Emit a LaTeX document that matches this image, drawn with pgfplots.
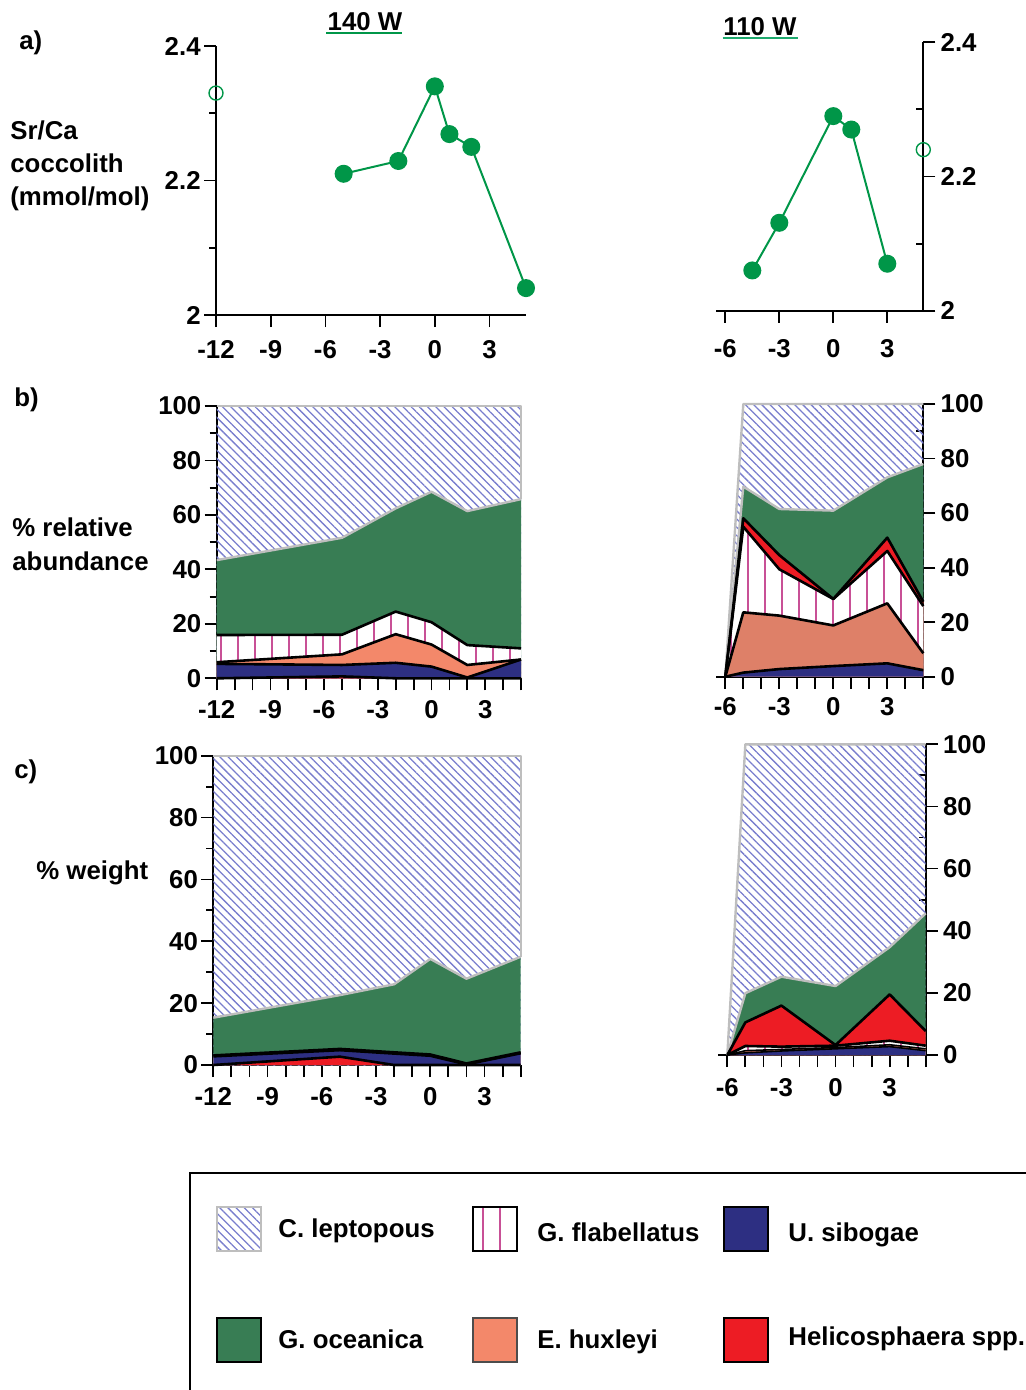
\documentclass[border=0pt]{standalone}
\usepackage{fontspec}
\setmainfont{Liberation Sans}
\usepackage{pgfplots}
\pgfplotsset{compat=1.18}
\usetikzlibrary{patterns.meta}

\definecolor{lepc}{RGB}{120,125,205}
\definecolor{ocean}{RGB}{56,125,84}
\definecolor{hux}{RGB}{243,136,106}
\definecolor{huxb}{RGB}{222,128,104}
\definecolor{sib}{RGB}{45,47,130}
\definecolor{heli}{RGB}{237,28,36}
\definecolor{flab}{RGB}{200,80,150}
\definecolor{srg}{RGB}{0,150,72}
\definecolor{srg2}{RGB}{30,170,110}
\definecolor{lepline}{RGB}{190,190,190}

\newcommand\lbl{\fontsize{12.9}{15.5}\selectfont\bfseries}

\pgfplotsset{
 base/.style={scale only axis, clip=false, axis line style={line width=1pt},
   tick style={black, line width=0.9pt}, tick align=outside,
   major tick length=6pt, minor tick length=3.5pt,
   ticklabel style={font=\lbl}, axis x line*=bottom},
 lft/.style={base, axis y line*=left, xmin=-12, xmax=5, anchor=south west,
   yticklabel style={inner sep=1.5pt}},
 rgt/.style={base, axis y line*=right, xmin=-6.5, xmax=5, anchor=south west,
   yticklabel style={inner sep=2.5pt}},
 lep/.style={draw=none, pattern={Lines[angle=-45,distance=2.9pt,line width=0.65pt]}, pattern color=lepc},
 lepl/.style={draw=lepline, line width=1.2pt, line join=round},
 oce/.style={draw=none, fill=ocean},
 flb/.style={draw=none, fill=white, postaction={pattern={Lines[angle=90,distance=8.5pt,line width=0.9pt]}, pattern color=flab}},
 hx/.style={draw=none, fill=hux},
 hxb/.style={draw=none, fill=huxb},
 sb/.style={draw=none, fill=sib},
 hl/.style={draw=none, fill=heli},
 bnd/.style={draw=black, line width=1.3pt, line join=round},
 srline/.style={srg, line width=1pt, mark=*, mark size=4pt, mark options={solid, fill=srg, draw=srg}},
 sropen/.style={srg, only marks, mark=o, mark size=3.5pt, mark options={line width=0.7pt}},
}

\begin{document}
\begin{tikzpicture}
\path[use as bounding box] (0,0) rectangle (513pt,-695pt);

% ---------------- a) left : 140 W ----------------
\begin{axis}[lft, at={(108pt,-157.5pt)}, width=155pt, height=134.5pt,
  ymin=2, ymax=2.4, xtick={-12,-9,-6,-3,0,3}, xticklabels={-12,-9,-6,-3,0,3},
  xticklabel style={yshift=-3pt},
  ytick={2,2.2,2.4}, yticklabels={2,2.2,2.4}, minor ytick={2.1,2.3}]
\addplot[srline] coordinates {(-5,2.21) (-2,2.229) (0,2.34) (0.8,2.269) (2,2.25) (5,2.04)};
\addplot[sropen] coordinates {(-12,2.33)};
\end{axis}

% ---------------- a) right : 110 W ----------------
\begin{axis}[rgt, at={(358.15pt,-155.35pt)}, width=103.5pt, height=134.2pt,
  ymin=2, ymax=2.4, xtick={-6,-3,0,3}, xticklabels={-6,-3,0,3},
  xticklabel style={yshift=-5pt},
  ytick={2,2.2,2.4}, yticklabels={2,2.2,2.4},
  extra y ticks={2.1,2.3}, extra y tick labels={}, extra y tick style={tick align=inside, major tick length=3.5pt}]
\addplot[srline] coordinates {(-4.5,2.06) (-3,2.131) (0,2.29) (1,2.27) (3,2.07)};
\addplot[sropen] coordinates {(5,2.24)};
\end{axis}

% ---------------- b) left ----------------
\begin{axis}[lft, at={(108.35pt,-339.15pt)}, width=152.15pt, height=136.15pt,
  ymin=0, ymax=100, xtick={-12,...,5}, xticklabels={-12,,,-9,,,-6,,,-3,,,0,,,3,,},
  xticklabel style={yshift=-1.5pt},
  ytick={0,20,...,100}, yticklabels={0,20,40,60,80,100}, minor ytick={10,30,...,90}]
\addplot[lep] coordinates {(-12,100) (5,100)} \closedcycle;
\addplot[lepl] coordinates {(-12,100) (5,100) (5,65.8)};
\addplot[oce] coordinates {(-12,43.4) (-5,51.6) (-2,62.4) (0,68.5) (2,61.4) (5,65.8)} \closedcycle;
\addplot[flb] coordinates {(-12,15.9) (-5,16.0) (-2,24.5) (0,20.6) (2,12.2) (5,11.0)} \closedcycle;
\addplot[hx] coordinates {(-12,5.9) (-5,8.8) (-2,16.2) (0,12.4) (2,4.9) (5,6.9)} \closedcycle;
\addplot[sb] coordinates {(-12,5.3) (-5,4.9) (-2,5.7) (0,4.3) (2,0.3) (5,6.9)} \closedcycle;
\addplot[hl] coordinates {(-12,0) (-5,0.7) (-2,0) (0,0) (2,0) (5,0)} \closedcycle;
\addplot[lepl] coordinates {(-12,43.4) (-5,51.6) (-2,62.4) (0,68.5) (2,61.4) (5,65.8)};
\addplot[bnd] coordinates {(-12,15.9) (-5,16.0) (-2,24.5) (0,20.6) (2,12.2) (5,11.0)};
\addplot[bnd] coordinates {(-12,5.9) (-5,8.8) (-2,16.2) (0,12.4) (2,4.9) (5,6.9)};
\addplot[bnd] coordinates {(-12,5.3) (-5,4.9) (-2,5.7) (0,4.3) (2,0.3) (5,6.9)};
\addplot[bnd] coordinates {(-12,0) (-5,0.7) (-2,0) (0,0) (2,0) (5,0)};
\end{axis}

% ---------------- b) right ----------------
\begin{axis}[rgt, at={(358.15pt,-338.35pt)}, width=103.5pt, height=136.35pt,
  ymin=0, ymax=100, xtick={-6,...,5}, xticklabels={-6,,,-3,,,0,,,3,,},
  xticklabel style={yshift=-1pt},
  ytick={0,20,...,100}, yticklabels={0,20,40,60,80,100},
  extra y ticks={10,30,50,70,90}, extra y tick labels={}, extra y tick style={tick align=inside, major tick length=3.5pt}]
\addplot[lep] coordinates {(-6,0) (-5,100) (5,100)} \closedcycle;
\addplot[lepl] coordinates {(-6,0) (-5,100) (5,100)};
\addplot[oce] coordinates {(-6,0) (-5,69.7) (-3,61.5) (0,60.9) (3,73.1) (5,78.0)} \closedcycle;
\addplot[hl] coordinates {(-6,0) (-5,58.1) (-3,44.6) (0,28.5) (3,51.0) (5,27.5)} \closedcycle;
\addplot[flb] coordinates {(-6,0) (-5,55.0) (-3,39.4) (0,28.5) (3,46.1) (5,25.9)} \closedcycle;
\addplot[hxb] coordinates {(-6,0) (-5,23.6) (-3,22.4) (0,18.8) (3,26.9) (5,8.6)} \closedcycle;
\addplot[sb] coordinates {(-6,0) (-5,1.5) (-3,2.8) (0,3.9) (3,4.9) (5,2.4)} \closedcycle;
\addplot[lepl] coordinates {(-6,0) (-5,69.7) (-3,61.5) (0,60.9) (3,73.1) (5,78.0)};
\addplot[bnd] coordinates {(-6,0) (-5,58.1) (-3,44.6) (0,28.5) (3,51.0) (5,27.5)};
\addplot[bnd] coordinates {(-6,0) (-5,55.0) (-3,39.4) (0,28.5) (3,46.1) (5,25.9)};
\addplot[bnd] coordinates {(-6,0) (-5,23.6) (-3,22.4) (0,18.8) (3,26.9) (5,8.6)};
\addplot[bnd] coordinates {(-6,0) (-5,1.5) (-3,2.8) (0,3.9) (3,4.9) (5,2.4)};
\end{axis}

% ---------------- c) left ----------------
\begin{axis}[lft, at={(106.65pt,-532.5pt)}, width=153.7pt, height=154.65pt,
  ymin=0, ymax=100, xtick={-12,...,5}, xticklabels={-12,,,-9,,,-6,,,-3,,,0,,,3,,},
  xticklabel style={yshift=-1.5pt},
  ytick={0,20,...,100}, yticklabels={0,20,40,60,80,100}, minor ytick={10,30,...,90}]
\addplot[lep] coordinates {(-12,100) (5,100)} \closedcycle;
\addplot[lepl] coordinates {(-12,100) (5,100) (5,35.0)};
\addplot[oce] coordinates {(-12,15.3) (-5,22.6) (-2,26.1) (0,34.3) (2,27.9) (5,35.0)} \closedcycle;
\addplot[flb] coordinates {(-12,3.1) (-5,5.2) (-2,4.1) (0,3.4) (2,0.5) (5,4.1)} \closedcycle;
\addplot[hx] coordinates {(-12,2.9) (-5,4.9) (-2,3.8) (0,3.1) (2,0.3) (5,3.9)} \closedcycle;
\addplot[sb] coordinates {(-12,2.8) (-5,4.8) (-2,3.7) (0,3.0) (2,0.2) (5,3.8)} \closedcycle;
\addplot[hl] coordinates {(-12,0) (-5,2.7) (-2,0) (0,0) (2,0) (5,0)} \closedcycle;
\addplot[lepl] coordinates {(-12,15.3) (-5,22.6) (-2,26.1) (0,34.3) (2,27.9) (5,35.0)};
\addplot[bnd] coordinates {(-12,3.1) (-5,5.2) (-2,4.1) (0,3.4) (2,0.5) (5,4.1)};
\addplot[bnd] coordinates {(-12,2.8) (-5,4.8) (-2,3.7) (0,3.0) (2,0.2) (5,3.8)};
\addplot[bnd] coordinates {(-12,0) (-5,2.7) (-2,0) (0,0) (2,0) (5,0)};
\end{axis}

% ---------------- c) right ----------------
\begin{axis}[rgt, at={(359.15pt,-527.5pt)}, width=103.7pt, height=155.35pt,
  ymin=0, ymax=100, xtick={-6,...,5}, xticklabels={-6,,,-3,,,0,,,3,,},
  xticklabel style={yshift=-2pt},
  ytick={0,20,...,100}, yticklabels={0,20,40,60,80,100},
  extra y ticks={10,30,50,70,90}, extra y tick labels={}, extra y tick style={tick align=inside, major tick length=3.5pt}]
\addplot[lep] coordinates {(-6,0) (-5,100) (5,100)} \closedcycle;
\addplot[lepl] coordinates {(-6,0) (-5,100) (5,100)};
\addplot[oce] coordinates {(-6,0) (-5,19.9) (-3,25.2) (0,22.2) (3,34.7) (5,45.6)} \closedcycle;
\addplot[hl] coordinates {(-6,0) (-5,10.5) (-3,15.9) (0,3.2) (3,19.5) (5,7.7)} \closedcycle;
\addplot[flb] coordinates {(-6,0) (-5,2.9) (-3,2.7) (0,3.0) (3,4.6) (5,3.0)} \closedcycle;
\addplot[hxb] coordinates {(-6,0) (-5,1.4) (-3,1.8) (0,2.4) (3,3.3) (5,2.0)} \closedcycle;
\addplot[sb] coordinates {(-6,0) (-5,0.7) (-3,1.3) (0,2.0) (3,2.7) (5,1.4)} \closedcycle;
\addplot[lepl] coordinates {(-6,0) (-5,19.9) (-3,25.2) (0,22.2) (3,34.7) (5,45.6)};
\addplot[bnd] coordinates {(-6,0) (-5,10.5) (-3,15.9) (0,3.2) (3,19.5) (5,7.7)};
\addplot[bnd] coordinates {(-6,0) (-5,2.9) (-3,2.7) (0,3.0) (3,4.6) (5,3.0)};
\addplot[bnd, line width=0.8pt] coordinates {(-6,0) (-5,1.4) (-3,1.8) (0,2.4) (3,3.3) (5,2.0)};
\addplot[bnd, line width=0.8pt] coordinates {(-6,0) (-5,0.7) (-3,1.3) (0,2.0) (3,2.7) (5,1.4)};
\end{axis}

% ---------------- texts ----------------
\begin{scope}[every node/.style={font=\lbl, inner sep=0pt}]
\node[anchor=base west] at (9.5pt,-25pt) {a)};
\node[anchor=base west] at (7pt,-203pt) {b)};
\node[anchor=base west] at (7pt,-389pt) {c)};
\node[anchor=base west] at (5pt,-70pt) {Sr/Ca};
\node[anchor=base west] at (5pt,-86.5pt) {coccolith};
\node[anchor=base west] at (5pt,-102.75pt) {(mmol/mol)};
\node[anchor=base west] at (6pt,-268pt) {\% relative};
\node[anchor=base west] at (6pt,-285pt) {abundance};
\node[anchor=base west] at (18pt,-439.5pt) {\% weight};
\node[anchor=base] at (182.5pt,-15.5pt) {140 W};
\node[anchor=base] at (380pt,-18pt) {110 W};
\end{scope}
\draw[srg, line width=1pt] (163pt,-16.6pt) -- (200.85pt,-16.6pt);
\draw[srg2, line width=1pt] (361.35pt,-18.85pt) -- (399.15pt,-18.85pt);

% ---------------- legend ----------------
\draw[line width=1pt] (520pt,-586.5pt) -- (95pt,-586.5pt) -- (95pt,-700pt);
\fill[pattern={Lines[angle=-45,distance=2.9pt,line width=0.65pt]}, pattern color=lepc] (108.5pt,-603.5pt) rectangle (130.5pt,-625.5pt);
\draw[lepline, line width=1pt] (108.5pt,-603.5pt) rectangle (130.5pt,-625.5pt);
\draw[line width=0.8pt, fill=white] (236.5pt,-603.5pt) rectangle (258.5pt,-625.5pt);
\draw[flab, line width=0.7pt] (241.5pt,-604pt) -- (241.5pt,-625pt);
\draw[flab, line width=0.7pt] (250pt,-604pt) -- (250pt,-625pt);
\draw[line width=0.8pt, fill=sib] (362pt,-603.5pt) rectangle (384pt,-625.5pt);
\draw[line width=0.8pt, fill=ocean] (108.5pt,-659pt) rectangle (130.5pt,-681pt);
\draw[line width=0.8pt, draw=black!70, fill=hux] (236.5pt,-659pt) rectangle (258.5pt,-681pt);
\draw[line width=0.8pt, fill=heli] (362pt,-659pt) rectangle (384pt,-681pt);
\begin{scope}[every node/.style={font=\lbl, inner sep=0pt, anchor=base west}]
\node at (139pt,-618.5pt) {C. leptopous};
\node at (268.5pt,-620.5pt) {G. flabellatus};
\node at (394pt,-620.5pt) {U. sibogae};
\node at (139pt,-674pt) {G. oceanica};
\node at (268.5pt,-674pt) {E. huxleyi};
\node at (394pt,-672.5pt) {Helicosphaera spp.};
\end{scope}
\end{tikzpicture}
\end{document}
